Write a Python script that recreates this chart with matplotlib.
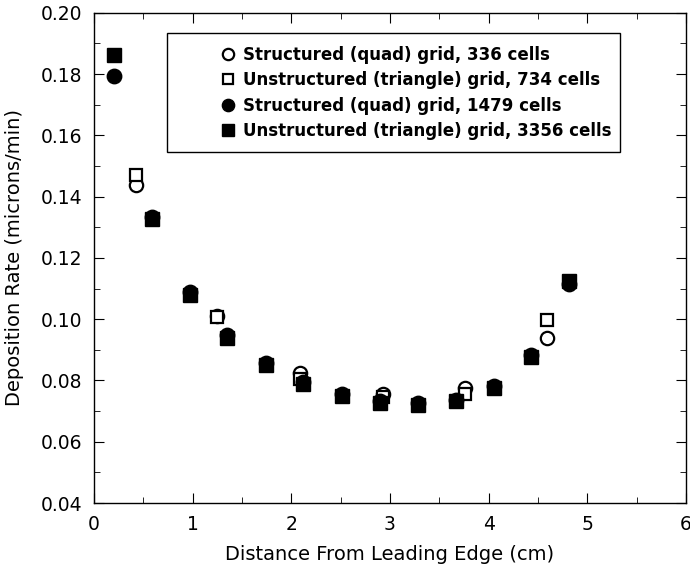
import matplotlib
matplotlib.use("Agg")
import matplotlib.pyplot as plt
from matplotlib.ticker import MultipleLocator, FormatStrFormatter
from matplotlib.patches import Rectangle

plt.rcParams['font.family'] = ['DejaVu Sans']

# Structured (quad) grid, 336 cells
x_q336 = [0.43, 1.25, 2.09, 2.93, 3.76, 4.59]
y_q336 = [0.1438, 0.1010, 0.0826, 0.0757, 0.0774, 0.0938]
# Unstructured (triangle) grid, 734 cells
x_t734 = [0.43, 1.25, 2.09, 2.93, 3.76, 4.59]
y_t734 = [0.1472, 0.1008, 0.0805, 0.0747, 0.0757, 0.0998]
# Structured (quad) grid, 1479 cells
x_q1479 = [0.20, 0.59, 0.97, 1.35, 1.74, 2.12, 2.51, 2.90, 3.28, 3.67, 4.05, 4.43, 4.81]
y_q1479 = [0.1795, 0.1332, 0.1090, 0.0947, 0.0856, 0.0794, 0.0755, 0.0732, 0.0725, 0.0737, 0.0782, 0.0883, 0.1115]
# Unstructured (triangle) grid, 3356 cells
x_t3356 = [0.20, 0.59, 0.97, 1.35, 1.74, 2.12, 2.51, 2.90, 3.28, 3.67, 4.05, 4.43, 4.81]
y_t3356 = [0.1862, 0.1327, 0.1080, 0.0940, 0.0850, 0.0790, 0.0748, 0.0726, 0.0721, 0.0733, 0.0776, 0.0875, 0.1125]

labels = ["Structured (quad) grid, 336 cells",
          "Unstructured (triangle) grid, 734 cells",
          "Structured (quad) grid, 1479 cells",
          "Unstructured (triangle) grid, 3356 cells"]

fig = plt.figure(figsize=(6.9, 5.66), dpi=100)
ax = fig.add_axes([0.1362, 0.1113, 0.858, 0.866])

ms = 9.6
ax.plot(x_q336, y_q336, 'o', ms=ms, mfc='white', mec='black', mew=1.6, ls='none', label=labels[0])
ax.plot(x_t734, y_t734, 's', ms=ms - 0.6, mfc='white', mec='black', mew=1.6, ls='none', label=labels[1])
ax.plot(x_q1479, y_q1479, 'o', ms=ms + 0.8, mfc='black', mec='black', ls='none', label=labels[2])
ax.plot(x_t3356, y_t3356, 's', ms=ms, mfc='black', mec='black', ls='none', label=labels[3])

ax.set_xlim(0, 6)
ax.set_ylim(0.04, 0.20)
ax.xaxis.set_major_locator(MultipleLocator(1))
ax.xaxis.set_minor_locator(MultipleLocator(0.5))
ax.yaxis.set_major_locator(MultipleLocator(0.02))
ax.yaxis.set_minor_locator(MultipleLocator(0.01))
ax.yaxis.set_major_formatter(FormatStrFormatter('%.2f'))
ax.tick_params(which='both', direction='in', top=True, right=True, labelsize=13.5, pad=8.5)
ax.tick_params(which='major', length=7)
ax.tick_params(which='minor', length=4)
for s in ax.spines.values():
    s.set_linewidth(1.0)

ax.set_xlabel("Distance From Leading Edge (cm)", fontsize=14, labelpad=8)
ax.set_ylabel("Deposition Rate (microns/min)", fontsize=14, labelpad=12)

leg = ax.legend(loc='upper left', bbox_to_anchor=(0.2095, 0.933), frameon=False,
                markerscale=0.85, handlelength=1.2, handletextpad=0.3, borderpad=0,
                labelspacing=0.45, prop={'weight': 'bold', 'size': 12}, borderaxespad=0)

# legend frame: fixed left/top/bottom, right edge follows the text
fig.canvas.draw()
bb = leg.get_window_extent().transformed(ax.transAxes.inverted())
x0, y0, y1 = 0.1233, 0.7163, 0.959
x1 = bb.x1 + 8 / (0.858 * 690)
ax.add_patch(Rectangle((x0, y0), x1 - x0, y1 - y0, transform=ax.transAxes,
                       facecolor='white', edgecolor='black', lw=1.0, zorder=4))
leg.set_zorder(5)

fig.savefig("out.png", dpi=100)
